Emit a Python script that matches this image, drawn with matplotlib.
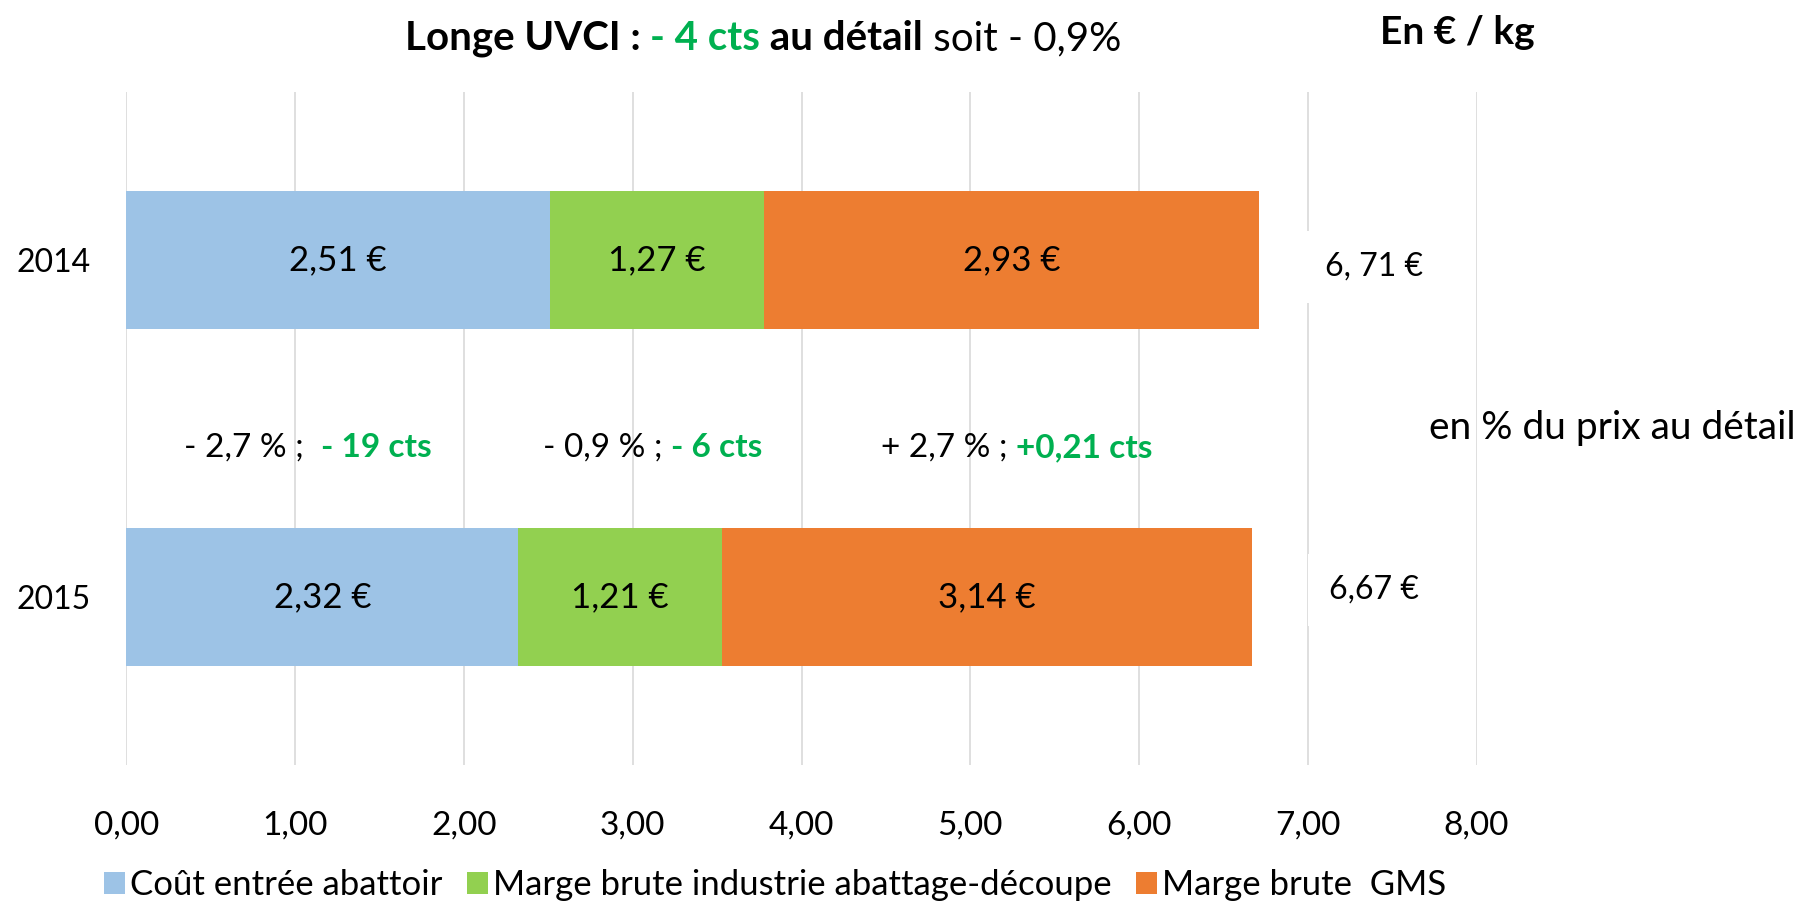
import matplotlib.pyplot as plt
import numpy as np

plt.rcParams['font.family'] = ['Lato', 'DejaVu Sans']

years = ['2014', '2015']
cout_abattoir = [2.51, 2.32]
marge_industrie = [1.27, 1.21]
marge_gms = [2.93, 3.14]
totaux = ['6, 71 €', '6,67 €']
evol_pct = ['- 2,7 % ;  ', '- 0,9 % ; ', '+ 2,7 % ; ']
evol_cts = ['- 19 cts', '- 6 cts', '+0,21 cts']
series_names = ['Coût entrée abattoir', 'Marge brute industrie abattage-découpe', 'Marge brute  GMS']
colors = ['#9DC3E6', '#92D050', '#ED7D31']
green_txt = '#00B050'
xticks = np.arange(0, 9)

FS = 23

fig = plt.figure(figsize=(18.03, 9.01), dpi=100)
ax = fig.add_axes([126.5 / 1803, 1 - 765 / 901, 1350 / 1803, 673 / 901])

y = np.arange(len(years))
left = np.zeros(len(years))
for vals, col, name in zip([cout_abattoir, marge_industrie, marge_gms], colors, series_names):
    bars = ax.barh(y, vals, left=left, height=0.41, color=col, label=name, zorder=2)
    ax.bar_label(bars, labels=[f'{v:.2f} €'.replace('.', ',') for v in vals],
                 label_type='center', fontsize=25)
    left = left + np.array(vals)

ax.set_xlim(0, 8)
ax.set_ylim(1.5, -0.5)
ax.set_xticks(xticks)
ax.set_xticklabels([f'{v:.2f}'.replace('.', ',') for v in xticks], fontsize=24)
ax.set_yticks(y)
ax.set_yticklabels(years, fontsize=FS)
ax.tick_params(axis='x', length=0, pad=33)
ax.tick_params(axis='y', length=0, pad=26)
ax.grid(axis='x', color='#D9D9D9', linewidth=1.2, zorder=0)
for s in ax.spines.values():
    s.set_visible(False)

# totals at the right of the bars
for yi, lab in zip(y, totaux):
    ax.text(7.39, yi + 0.02 - 0.04 * yi, lab, ha='center', va='center', fontsize=FS,
            bbox=dict(facecolor='white', edgecolor='none', pad=15), zorder=3)


def rich(x, yy, parts, coords, fs, **kw):
    t = ax.annotate(parts[0][0], xy=(x, yy), xycoords=coords, va='bottom', ha='left',
                    fontsize=fs, fontweight=parts[0][1], color=parts[0][2], annotation_clip=False, **kw)
    for s, w, c in parts[1:]:
        t = ax.annotate(s, xy=(1, 0), xycoords=t, va='bottom', ha='left',
                        fontsize=fs, fontweight=w, color=c, annotation_clip=False, **kw)
    return t


# evolution between the two years
for xl, p, c in zip([(184 - 126.5) / 168.75, (543 - 126.5) / 168.75, (881 - 126.5) / 168.75],
                    evol_pct, evol_cts):
    rich(xl, 0.6, [(p, 'normal', 'black'), (c, 'bold', green_txt)], 'data', 24)

ax.text(1429 / 1803, 1 - 428 / 901, 'en % du prix au détail', transform=fig.transFigure,
        fontsize=28, va='center', ha='left')

# title
rich(405 / 1803, 1 - 57 / 901, [('Longe UVCI : ', 'bold', 'black'), ('- 4 cts', 'bold', green_txt),
                                (' au détail', 'bold', 'black'), (' soit - 0,9%', 'normal', 'black')],
     fig.transFigure, 29)
fig.text(1380 / 1803, 1 - 33 / 901, 'En € / kg', fontsize=28, fontweight='bold', va='center', ha='left')

fig.legend(loc='lower left', bbox_to_anchor=(73 / 1803, -0.035), ncol=3, frameon=False,
           fontsize=25, handlelength=0.6, handleheight=0.6, handletextpad=0.15, columnspacing=0.7)

fig.savefig('out.png', dpi=100)
